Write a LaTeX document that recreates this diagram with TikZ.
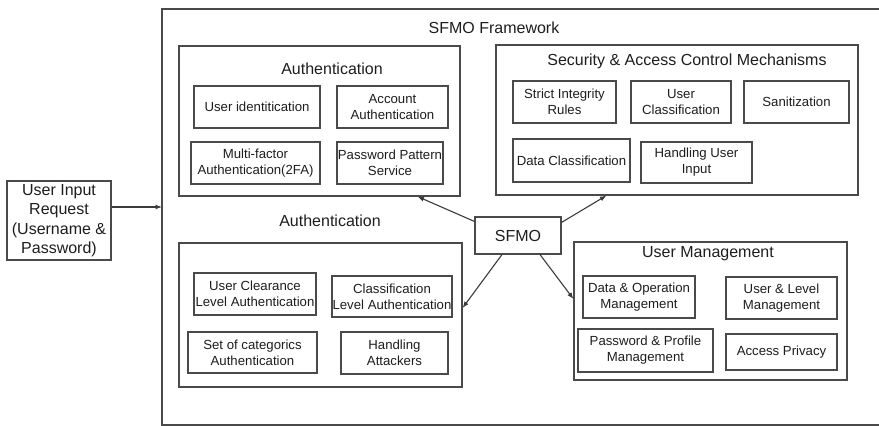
\documentclass[tikz,border=0pt]{standalone}
\usepackage{fontspec}
\setmainfont{Liberation Sans}
\usetikzlibrary{arrows.meta,calc}
\definecolor{edge}{HTML}{4A4A4A}
\definecolor{ink}{HTML}{1E1E1E}
\tikzset{
  box/.style={draw=edge, line width=1.1pt, rectangle, inner sep=0pt},
  sub/.style={box, text=ink, align=center, font=\fontsize{13.2}{16}\selectfont},
  group/.style={box},
  ttl/.style={text=ink, inner sep=0pt, font=\fontsize{16}{19}\selectfont},
  arr/.style={draw=edge!80!black, line width=1.1pt, -{Latex[length=6.5pt,width=5pt]}},
}
\begin{document}
\begin{tikzpicture}[x=1pt,y=-1pt]
\useasboundingbox (0,0) rectangle (879,426);
\fill[white] (0,0) rectangle (879,426);

% outer framework frame (right side runs off the page)
\draw[edge, line width=1.1pt] (885,9) -- (162,9) -- (162,425) -- (885,425);
\node[ttl] (fwt) at (494,28) {SFMO Framework};

% user request
\node[sub, font=\fontsize{16}{19.5}\selectfont, minimum width=104pt, minimum height=79pt] (inp) at (59,220.5)
  {User Input\\Request\\(Username \&\\Password)};
\coordinate (fr) at (162,207);
\draw[arr] (fr -| inp.east) -- (fr);

% authentication (top)
\node[group, minimum width=281pt, minimum height=150pt] (auth1) at (319.5,121) {};
\node[ttl] (auth1t) at (332,69) {Authentication};
\node[sub, minimum width=126pt, minimum height=42pt] (ui) at (257,107) {User identitication};
\node[sub, minimum width=111pt, minimum height=42pt] (acc) at (392.5,107) {Account\\Authentication};
\node[sub, minimum width=129pt, minimum height=42pt] (mfa) at (255.5,163) {Multi-factor\\Authentication(2FA)};
\node[sub, minimum width=106pt, minimum height=42pt] (pps) at (390,163) {Password Pattern\\Service};

% security & access control
\node[group, minimum width=362pt, minimum height=150pt] (sec) at (677,120) {};
\node[ttl] (sect) at (687,61) {Security \& Access Control Mechanisms};
\node[sub, minimum width=103pt, minimum height=42pt] (sir) at (564.5,102) {Strict Integrity\\Rules};
\node[sub, minimum width=100pt, minimum height=42pt] (ucl) at (681,102) {User\\Classification};
\node[sub, minimum width=105pt, minimum height=42pt] (san) at (796.5,102) {Sanitization};
\node[sub, minimum width=117pt, minimum height=43pt] (dcl) at (571.5,160.5) {Data Classification};
\node[sub, minimum width=111pt, minimum height=41pt] (hui) at (696.5,162.5) {Handling User\\Input};

% central node
\node[sub, font=\fontsize{16}{19}\selectfont, minimum width=86pt, minimum height=37pt] (sfmo) at (518,235.5) {SFMO};

% authentication (bottom)
\node[ttl] (auth2t) at (330,221) {Authentication};
\node[group, minimum width=283pt, minimum height=144pt] (auth2) at (320.5,315) {};
\node[sub, minimum width=122pt, minimum height=42pt] (ucla) at (255,294) {User Clearance\\Level Authentication};
\node[sub, minimum width=120pt, minimum height=41pt] (cla) at (392,296.5) {Classification\\Level Authentication};
\node[sub, minimum width=129pt, minimum height=41pt] (soc) at (252.5,352.5) {Set of categorics\\Authentication};
\node[sub, minimum width=107pt, minimum height=42pt] (ha) at (394.5,353) {Handling\\Attackers};

% user management
\node[group, minimum width=273pt, minimum height=138pt] (um) at (710.5,311) {};
\node[ttl] (umt) at (708,254) {User Management};
\node[sub, minimum width=112pt, minimum height=42pt] (dom) at (639,297) {Data \& Operation\\Management};
\node[sub, minimum width=111pt, minimum height=42pt] (ulm) at (781.5,298) {User \& Level\\Management};
\node[sub, minimum width=135pt, minimum height=43pt] (ppm) at (645.5,350.5) {Password \& Profile\\Management};
\node[sub, minimum width=111pt, minimum height=36pt] (ap) at (781.5,352) {Access Privacy};

% connectors from the central node
\draw[arr] ([yshift=-5pt]sfmo.north west) -- ([xshift=-43pt]auth1.south east);
\draw[arr] ([yshift=-6pt]sfmo.north east) -- ([xshift=111pt]sec.south west);
\draw[arr] ([xshift=-16pt]sfmo.south) -- ([yshift=7pt]auth2.east);
\draw[arr] ([xshift=22pt]sfmo.south) -- ([yshift=12pt]um.west);
\end{tikzpicture}
\end{document}
